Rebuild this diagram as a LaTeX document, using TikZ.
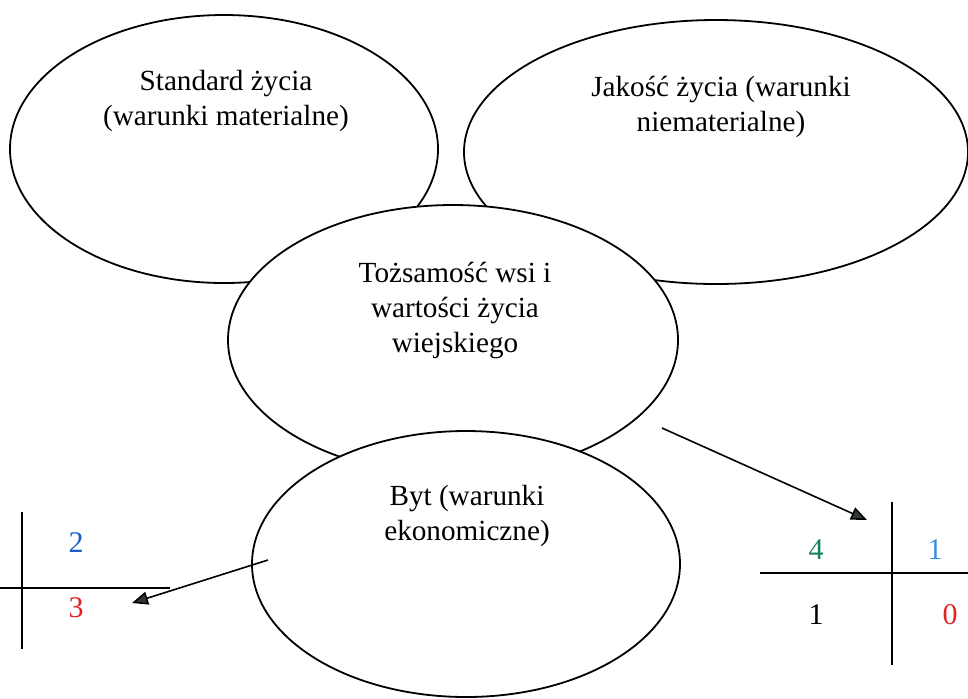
\documentclass[tikz,border=0pt]{standalone}
\usepackage{fontspec}
\setmainfont{Liberation Serif}
\usetikzlibrary{shapes.geometric,arrows.meta}
\definecolor{numblue}{HTML}{1A5FC8}
\definecolor{numlblue}{HTML}{3A8EE0}
\definecolor{numred}{HTML}{E02424}
\definecolor{numgreen}{HTML}{1A7F62}
\definecolor{arrowgray}{HTML}{2E3A38}
\begin{document}
\begin{tikzpicture}[x=0.5pt,y=-0.5pt,
  oval/.style={draw=black,fill=white,ellipse,line width=0.9pt,inner sep=0pt},
  lbl/.style={align=center,font=\fontsize{14.6}{17.5}\selectfont,inner sep=0pt},
  num/.style={font=\fontsize{15}{18}\selectfont,inner sep=0pt},
  axis/.style={line width=1.1pt,black},
  link/.style={line width=0.8pt,black,-{Triangle[length=8pt,width=6.5pt,fill=arrowgray]}}]
\useasboundingbox (0,0) rectangle (968,698);
% ellipses
\node[oval,minimum width=428pt*0.5,minimum height=268pt*0.5] (std) at (224,149) {};
\node[oval,minimum width=504pt*0.5,minimum height=264pt*0.5] (jak) at (716,152) {};
\node[oval,minimum width=450pt*0.5,minimum height=270pt*0.5] (toz) at (453,340) {};
\node[oval,minimum width=428pt*0.5,minimum height=266pt*0.5] (byt) at (466,564) {};
% texts
\node[lbl] (tstd) at (226,101) {Standard życia\\(warunki materialne)};
\node[lbl] (tjak) at (721,107) {Jakość życia (warunki\\niematerialne)};
\node[lbl] (ttoz) at (455,310) {Tożsamość wsi i\\wartości życia\\wiejskiego};
\node[lbl] (tbyt) at (467,516) {Byt (warunki\\ekonomiczne)};
% left cross
\coordinate (lt) at (22,512);
\coordinate (lb) at (22,649);
\coordinate (ll) at (0,588);
\coordinate (lr) at (170,588);
\draw[axis] (lt) -- (lb);
\draw[axis] (ll) -- (lr);
\node[num,text=numblue] (n2) at (76,543) {2};
\node[num,text=numred] (n3) at (76,608) {3};
% right cross
\coordinate (rt) at (892,502);
\coordinate (rbm) at (892,665);
\coordinate (rl) at (760,573);
\coordinate (rr) at (968,573);
\draw[axis] (rt) -- (rbm);
\draw[axis] (rl) -- (rr);
\node[num,text=numgreen] (n4) at (816,550) {4};
\node[num,text=numlblue] (n1a) at (935,550) {1};
\node[num,text=black] (n1b) at (816,615) {1};
\node[num,text=numred] (n0) at (950,615) {0};
% arrows
\coordinate (la) at (268,560);
\coordinate (lz) at (132,603);
\draw[link] (la) -- (lz);
\coordinate (ra) at (662,428);
\coordinate (rz) at (867,520);
\draw[link] (ra) -- (rz);
\end{tikzpicture}
\end{document}
